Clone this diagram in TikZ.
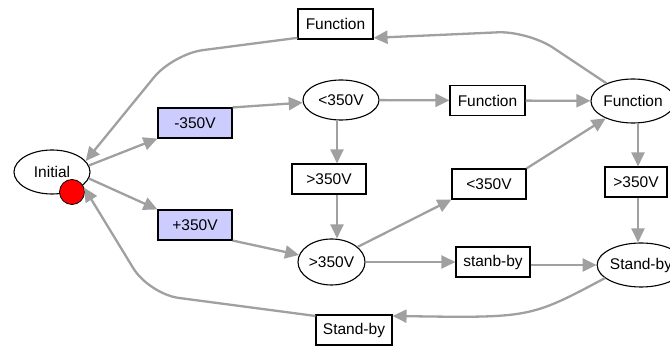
\documentclass[tikz,border=0pt]{standalone}
\usepackage{fontspec}
\setmainfont{Liberation Sans}
\usetikzlibrary{arrows.meta,shapes.geometric}
\definecolor{edgegray}{RGB}{160,160,160}
\definecolor{lavender}{RGB}{204,204,255}
\tikzset{
  every node/.style={font=\fontsize{15.5}{18}\selectfont, text=black},
  lbox/.style={draw=black, line width=1.1pt, fill=white, rectangle, inner sep=1pt,
    minimum width=75pt, minimum height=30pt},
  vbox/.style={lbox, fill=lavender},
  state/.style={draw=black, line width=1.1pt, fill=white, ellipse, inner sep=0pt},
  edge/.style={draw=edgegray, line width=2.3pt, -{Triangle[length=14pt,width=13pt]}},
}
\begin{document}
\begin{tikzpicture}[x=1pt,y=-1pt]
\useasboundingbox (0,0) rectangle (670,347);
% states
\node[state, minimum width=76pt, minimum height=44pt] (init) at (52,172) {Initial};
\node[circle, draw=black, line width=0.8pt, fill=red, minimum size=25pt, inner sep=0pt] (red) at (72,192) {};
\node[state, minimum width=76pt, minimum height=40pt] (lt) at (341,100) {<350V};
\node[state, minimum width=70pt, minimum height=44pt] (fr) at (633,101) {Function};
\node[state, minimum width=67pt, minimum height=46pt] (gt) at (331.5,262) {>350V};
\node[state, minimum width=76pt, minimum height=44pt] (sbe) at (641,265) {Stand-by};
% transition labels
\node[vbox, minimum width=74pt] (m350) at (195,123) {-350V};
\node[vbox, minimum width=74pt] (p350) at (195,225) {+350V};
\node[lbox] (fm) at (487.5,100.5) {Function};
\node[lbox] (ftop) at (335.5,24) {Function};
\node[lbox, minimum width=74pt] (gtb) at (329,179) {>350V};
\node[lbox, minimum width=74pt] (rb) at (489,184) {<350V};
\node[lbox, minimum width=62pt] (rr) at (636,182) {>350V};
\node[lbox, minimum width=74pt] (sb) at (493,262) {stanb-by};
\node[lbox, minimum width=76pt] (sbb) at (354,330) {Stand-by};
\coordinate (vl) at (337,0);
\coordinate (vr) at (638,0);
\coordinate (ctr) at (528,31);
\coordinate (ctl) at (173,54);
\coordinate (cbl) at (149,294);
% edges
\draw[edge] (init.10) -- (m350.south west);
\draw[edge] (init.-10) -- (p350.north west);
\draw[edge] (m350.north east) -- (lt);
\draw[edge] (p350.south east) -- (gt);
\draw[edge] (lt) -- (fm);
\draw[edge] (fm) -- (fr);
\draw[edge] (lt.south -| vl) -- (gtb.north -| vl);
\draw[edge] (gtb.south -| vl) -- (gt.north -| vl);
\draw[edge] (gt.30) -- (rb.south west);
\draw[edge] (rb.north east) -- (fr);
\draw[edge] (gt) -- (sb);
\draw[edge] (sb.east |- sbe.west) -- (sbe.west);
\draw[edge] (fr.south -| vr) -- (rr.north -| vr);
\draw[edge] (rr.south -| vr) -- (sbe.north -| vr);
\draw[edge, rounded corners=30pt] (fr) -- (ctr) -- (ftop.-20);
\draw[edge, rounded corners=30pt] (ftop.200) -- (ctl) -- (init.18);
\draw[edge] (sbe.200) .. controls (530,318) .. (sbb.20);
\draw[edge, rounded corners=30pt] (sbb.160) -- (cbl) -- (red.20);
\end{tikzpicture}
\end{document}
